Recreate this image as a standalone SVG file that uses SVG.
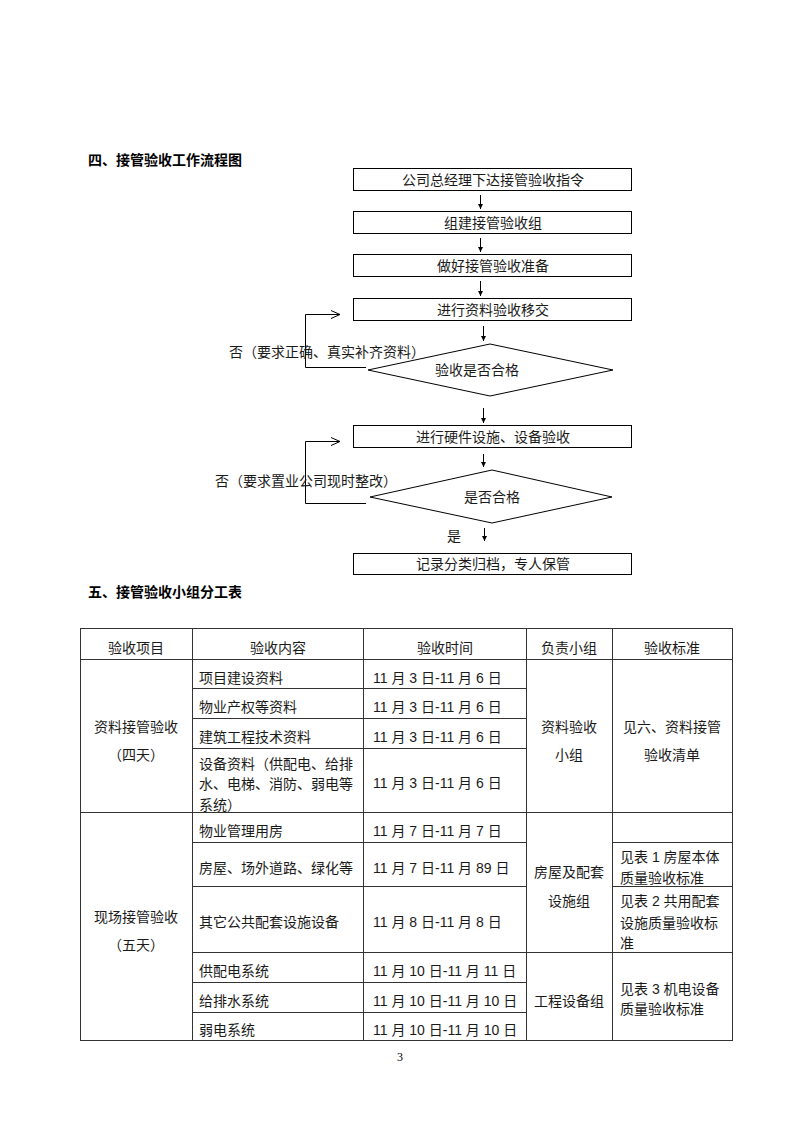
<svg xmlns="http://www.w3.org/2000/svg" width="800" height="1132" viewBox="0 0 800 1132">
<style>
.t{font-family:"Liberation Sans","Noto Sans CJK SC",sans-serif;font-size:14px;fill:#1a1a1a;dominant-baseline:central}
.c{text-anchor:middle}
.h{font-weight:bold;fill:#000}
.box{fill:#fff;stroke:#000;stroke-width:1}
.ln{fill:none;stroke:#000;stroke-width:1}
.tb{fill:none;stroke:#333;stroke-width:1}
</style>
<defs>
<marker id="ah" markerWidth="6" markerHeight="6" refX="5" refY="3" orient="auto" markerUnits="userSpaceOnUse">
<path d="M0,0.5 L5,3 L0,5.5 Z" fill="#000"/>
</marker>
<marker id="chev" markerWidth="12" markerHeight="12" refX="10" refY="5" orient="auto" markerUnits="userSpaceOnUse">
<path d="M1,1 L10,5 L1,9" fill="none" stroke="#000" stroke-width="1"/>
</marker>
</defs>
<rect width="800" height="1132" fill="#fff"/>
<text class="t h" x="88" y="160">四、接管验收工作流程图</text>
<g id="connectors">
<line class="ln" x1="480.5" y1="195" x2="480.5" y2="209" marker-end="url(#ah)"/>
<line class="ln" x1="480.5" y1="238" x2="480.5" y2="252" marker-end="url(#ah)"/>
<line class="ln" x1="480.5" y1="281" x2="480.5" y2="296" marker-end="url(#ah)"/>
<line class="ln" x1="483.5" y1="326" x2="483.5" y2="341" marker-end="url(#ah)"/>
<line class="ln" x1="483.5" y1="408" x2="483.5" y2="423" marker-end="url(#ah)"/>
<line class="ln" x1="483.5" y1="454" x2="483.5" y2="467" marker-end="url(#ah)"/>
<line class="ln" x1="484.5" y1="528" x2="484.5" y2="541" marker-end="url(#ah)"/>
<polyline class="ln" points="366,367.5 305.5,367.5 305.5,314.5 340,314.5" marker-end="url(#chev)"/>
<polyline class="ln" points="366,503.5 305.5,503.5 305.5,441.5 340,441.5" marker-end="url(#chev)"/>
<text class="t" x="229" y="352">否（要求正确、真实补齐资料）</text>
<text class="t" x="215" y="481">否（要求置业公司现时整改）</text>
<text class="t" x="447" y="536">是</text>
</g>
<g id="n1"><rect class="box" x="353.5" y="168.5" width="278" height="22"/><text class="t c" x="493" y="179.5">公司总经理下达接管验收指令</text></g>
<g id="n2"><rect class="box" x="353.5" y="211.5" width="278" height="22"/><text class="t c" x="493" y="222.5">组建接管验收组</text></g>
<g id="n3"><rect class="box" x="353.5" y="254.5" width="278" height="22"/><text class="t c" x="493" y="265.5">做好接管验收准备</text></g>
<g id="n4"><rect class="box" x="353.5" y="298.5" width="278" height="22"/><text class="t c" x="493" y="309.5">进行资料验收移交</text></g>
<g id="d1"><polygon class="box" points="368,370 490,344 613,370 490,396"/><text class="t c" x="477" y="370">验收是否合格</text></g>
<g id="n5"><rect class="box" x="353.5" y="425.5" width="278" height="22"/><text class="t c" x="493" y="436.5">进行硬件设施、设备验收</text></g>
<g id="d2"><polygon class="box" points="370,497 492,470 612,497 492,523"/><text class="t c" x="492" y="497">是否合格</text></g>
<g id="n6"><rect class="box" x="353.5" y="553.5" width="278" height="21"/><text class="t c" x="493" y="564">记录分类归档，专人保管</text></g>
<text class="t h" x="88" y="592">五、接管验收小组分工表</text>
<g id="table">
<rect class="tb" x="80.5" y="628.5" width="652" height="412"/>
<path class="tb" d="M192.5,628V1041 M363.5,628V1041 M526.5,628V1041 M612.5,628V1041
M80,659.5H733 M192,688.5H526 M192,718.5H526 M192,748.5H526 M80,812.5H733
M192,842.5H526 M612,842.5H733 M192,886.5H526 M612,886.5H733 M192,952.5H733
M192,982.5H526 M192,1012.5H526"/>
<text class="t c" x="136" y="648">验收项目</text>
<text class="t c" x="278" y="648">验收内容</text>
<text class="t c" x="445" y="648">验收时间</text>
<text class="t c" x="569" y="648">负责小组</text>
<text class="t c" x="672" y="648">验收标准</text>
<text class="t c" x="136" y="727">资料接管验收</text>
<text class="t c" x="136" y="755">（四天）</text>
<text class="t" x="199" y="678">项目建设资料</text>
<text class="t" x="199" y="707">物业产权等资料</text>
<text class="t" x="199" y="737">建筑工程技术资料</text>
<text class="t" x="199" y="764">设备资料（供配电、给排</text>
<text class="t" x="199" y="784">水、电梯、消防、弱电等</text>
<text class="t" x="199" y="805">系统）</text>
<text class="t" x="373" y="678">11 月 3 日-11 月 6 日</text>
<text class="t" x="373" y="707">11 月 3 日-11 月 6 日</text>
<text class="t" x="373" y="737">11 月 3 日-11 月 6 日</text>
<text class="t" x="373" y="783">11 月 3 日-11 月 6 日</text>
<text class="t c" x="569" y="727">资料验收</text>
<text class="t c" x="569" y="755">小组</text>
<text class="t c" x="672" y="727">见六、资料接管</text>
<text class="t c" x="672" y="755">验收清单</text>
<text class="t c" x="136" y="917">现场接管验收</text>
<text class="t c" x="136" y="945">（五天）</text>
<text class="t" x="199" y="831">物业管理用房</text>
<text class="t" x="199" y="868">房屋、场外道路、绿化等</text>
<text class="t" x="199" y="922">其它公共配套设施设备</text>
<text class="t" x="199" y="971">供配电系统</text>
<text class="t" x="199" y="1001">给排水系统</text>
<text class="t" x="199" y="1030">弱电系统</text>
<text class="t" x="373" y="831">11 月 7 日-11 月 7 日</text>
<text class="t" x="373" y="868">11 月 7 日-11 月 89 日</text>
<text class="t" x="373" y="922">11 月 8 日-11 月 8 日</text>
<text class="t" x="373" y="971">11 月 10 日-11 月 11 日</text>
<text class="t" x="373" y="1001">11 月 10 日-11 月 10 日</text>
<text class="t" x="373" y="1030">11 月 10 日-11 月 10 日</text>
<text class="t c" x="569" y="872">房屋及配套</text>
<text class="t c" x="569" y="901">设施组</text>
<text class="t c" x="569" y="1001">工程设备组</text>
<text class="t" x="620" y="857">见表 1 房屋本体</text>
<text class="t" x="620" y="878">质量验收标准</text>
<text class="t" x="620" y="901">见表 2 共用配套</text>
<text class="t" x="620" y="923">设施质量验收标</text>
<text class="t" x="620" y="943">准</text>
<text class="t" x="620" y="989">见表 3 机电设备</text>
<text class="t" x="620" y="1009">质量验收标准</text>
</g>
<text x="400" y="1061" text-anchor="middle" font-family="Liberation Serif,serif" font-size="12" fill="#000">3</text>
</svg>
